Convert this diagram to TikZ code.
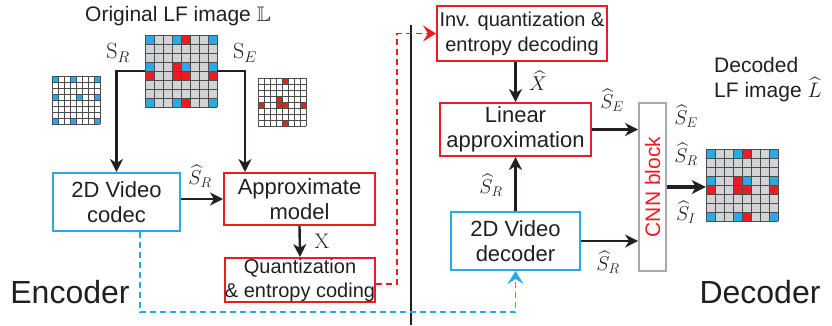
\RequirePackage{fix-cm}
\documentclass[tikz,border=0pt]{standalone}
\usepackage[no-math]{fontspec}
\setmainfont{Liberation Sans}
\usepackage{amssymb}
\usetikzlibrary{arrows.meta,calc}
\definecolor{cblue}{HTML}{29ABE2}
\definecolor{cred}{HTML}{ED1C24}
\definecolor{cgray}{HTML}{A7A9AC}
\definecolor{cellgray}{HTML}{D1D3D4}
\definecolor{gline}{HTML}{4D4D4F}
\definecolor{ink}{HTML}{231F20}
\newcommand\lfgrid[5]{%
 \begin{scope}[shift={(#1,#2)}]
 \fill[#4] (0,0) rectangle (8*#3,8*#3);
 \ifnum#5<2
  \foreach \c/\r in {0/0,3/0,7/0,0/3,4/3,7/3,0/7,3/7,7/7}{\fill[cblue] (\c*#3,\r*#3) rectangle ++(#3,#3);}
 \fi
 \ifnum#5=1 \else
  \foreach \c/\r in {4/0,3/3,0/4,3/4,4/4,7/4,4/7}{\fill[cred] (\c*#3,\r*#3) rectangle ++(#3,#3);}
 \fi
 \foreach \i in {0,...,8}{\draw[gline,line width=1pt] (\i*#3,0) -- (\i*#3,8*#3) (0,\i*#3) -- (8*#3,\i*#3);}
 \end{scope}}
\tikzset{
 box/.style={draw, line width=2pt, align=center, inner sep=0pt, text=ink, font=\fontsize{22}{25}\selectfont},
 bluebox/.style={box, draw=cblue},
 redbox/.style={box, draw=cred},
 lab/.style={inner sep=0pt, text=ink, font=\fontsize{20}{22}\selectfont},
 bigtxt/.style={inner sep=0pt, text=ink, font=\fontsize{32}{36}\selectfont},
 tip/.style={-{Stealth[length=13pt,width=13pt,inset=4pt]}},
 dtip/.style={-{Stealth[length=13pt,width=16pt,inset=5pt]}},
 arr/.style={line width=2.4pt, draw=ink, tip},
 thickarr/.style={line width=3.4pt, draw=ink, -{Stealth[length=14pt,width=14pt,inset=4pt]}},
 plain/.style={line width=2.2pt, draw=ink},
 reddash/.style={line width=1.8pt, draw=cred, dash pattern=on 6pt off 4pt, dtip},
 bluedash/.style={line width=1.8pt, draw=cblue, dash pattern=on 6pt off 4pt, dtip},
 gridnode/.style={inner sep=0pt, minimum size=#1},
}
\begin{document}
\begin{tikzpicture}[x=1pt,y=-1pt]
\useasboundingbox (0,0) rectangle (832,325);
% title and grids
\node[lab, font=\fontsize{21}{24}\selectfont] (title) at (178,16) {Original LF image $\mathbb{L}$};
\node[gridnode=72pt] (Lgrid) at (181,71) {};
\lfgrid{145}{35}{9}{cellgray}{0}
\node[gridnode=48pt] (SRgrid) at (76,100) {};
\lfgrid{52}{76}{6}{white}{1}
\node[gridnode=48pt] (SEgrid) at (282,102) {};
\lfgrid{258}{78}{6}{white}{2}
\node[gridnode=72pt] (Dgrid) at (742,185) {};
\lfgrid{706}{149}{9}{cellgray}{0}
\node[lab, font=\fontsize{22}{24}\selectfont] (lsr) at (118,53) {$\mathrm{S}_R$};
\node[lab, font=\fontsize{22}{24}\selectfont] (lse) at (245,53) {$\mathrm{S}_E$};
% encoder boxes
\node[bluebox, minimum width=127pt, minimum height=58pt] (codec) at (116.5,202) {2D Video\\codec};
\node[redbox, minimum width=151pt, minimum height=52pt] (approx) at (299.5,199) {Approximate\\model};
\node[redbox, minimum width=150pt, minimum height=44pt, font=\fontsize{20}{24}\selectfont] (quant) at (300,280) {Quantization\\\& entropy coding};
% decoder boxes
\node[redbox, minimum width=170pt, minimum height=55pt, font=\fontsize{20}{25}\selectfont] (invq) at (522,33.5) {Inv. quantization \&\\entropy decoding};
\node[redbox, minimum width=151pt, minimum height=53pt] (linear) at (515.5,129.5) {Linear\\approximation};
\node[bluebox, minimum width=129pt, minimum height=58pt] (decoder) at (515.5,241) {2D Video\\decoder};
\node[draw=cgray, line width=1.8pt, minimum width=27pt, minimum height=168pt, inner sep=0pt] (cnn) at (652.5,187) {};
\node[rotate=90, inner sep=0pt, text=cred, font=\fontsize{21}{24}\selectfont] (cnntext) at (cnn) {CNN block};
% big labels
\node[bigtxt] (enc) at (70,292) {Encoder};
\node[bigtxt] (dec) at (760,292) {Decoder};
\node[lab, font=\fontsize{21}{25}\selectfont, align=left, anchor=west] (dtitle) at (714,80) {Decoded\\LF image $\widehat{L}$};
% divider
\coordinate (dtop) at (411,25);
\coordinate (dbot) at (411,325);
\draw[plain] (dtop) -- (dbot);
% encoder connectors
\coordinate (fr) at (245,71);
\draw[arr] (Lgrid.west) -| (codec.north);
\draw[arr] (Lgrid.east) -- (fr) -- (fr |- approx.north);
\draw[arr] (codec.east |- approx.west) -- (approx.west);
\node[lab] (lsrh) at (200,176) {$\widehat{S}_R$};
\draw[arr] (approx.south) -- (quant.north);
\node[lab, font=\fontsize{21}{24}\selectfont] (lx) at (322,241) {$\mathrm{X}$};
\coordinate (qr) at (376,284);
\coordinate (rv) at (397,284);
\draw[reddash] (qr) -- (rv) |- (invq.west);
\coordinate (cb) at (140,232);
\coordinate (cbb) at (140,312);
\draw[bluedash] (cb) -- (cbb) -| (decoder.south);
% decoder connectors
\draw[arr] (linear.north |- invq.south) -- (linear.north);
\node[lab] (lxh) at (538,81) {$\widehat{X}$};
\draw[arr] (decoder.north) -- (linear.south);
\node[lab] (lsrd) at (491,185) {$\widehat{S}_R$};
\draw[arr] (linear.east) -- (linear.east -| cnn.west);
\node[lab] (lsel) at (612,100) {$\widehat{S}_E$};
\draw[arr] (decoder.east) -- (decoder.east -| cnn.west);
\node[lab] (lsrc) at (608,262) {$\widehat{S}_R$};
\draw[thickarr] (cnn.east) -- (cnn.east -| Dgrid.west);
\node[lab] (o1) at (686,116) {$\widehat{S}_E$};
\node[lab] (o2) at (686,154) {$\widehat{S}_R$};
\node[lab] (o3) at (686,212) {$\widehat{S}_I$};
\end{tikzpicture}
\end{document}
